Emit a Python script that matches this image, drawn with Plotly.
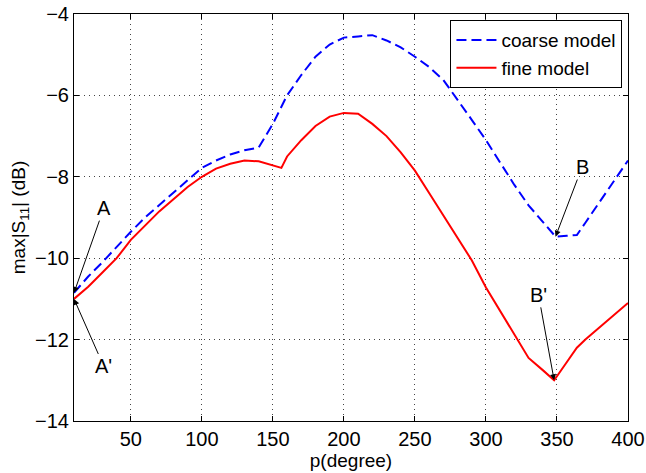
import plotly.graph_objects as go

p_coarse = [10, 20, 30, 40, 50, 60, 70, 80, 90, 100, 110, 120, 130, 140, 150, 160, 170, 180, 190, 200,
            210, 220, 230, 240, 250, 260, 270, 280, 290, 300, 310, 320, 330, 340, 349, 357, 364, 370, 380, 390, 400]
s11_coarse = [-10.85, -10.45, -10.1, -9.72, -9.35, -9.0, -8.7, -8.4, -8.1, -7.78, -7.6, -7.45, -7.35, -7.28, -6.7,
              -6.0, -5.5, -5.05, -4.75, -4.58, -4.55, -4.52, -4.65, -4.82, -5.05, -5.3, -5.62, -6.1, -6.6, -7.1,
              -7.65, -8.2, -8.7, -9.1, -9.47, -9.45, -9.43, -9.13, -8.63, -8.1, -7.6]

p_fine = [10, 20, 30, 40, 50, 60, 70, 80, 90, 100, 110, 120, 130, 140, 150, 156, 160, 170, 180, 190, 200,
          210, 220, 230, 240, 250, 260, 270, 280, 290, 300, 310, 320, 330, 340, 348, 356, 364, 370, 380, 390, 400]
s11_fine = [-11.0, -10.7, -10.35, -10.0, -9.55, -9.2, -8.85, -8.55, -8.25, -8.0, -7.8, -7.68, -7.6, -7.62, -7.72,
            -7.78, -7.5, -7.1, -6.75, -6.52, -6.43, -6.45, -6.7, -7.0, -7.4, -7.85, -8.4, -8.95, -9.5, -10.05,
            -10.72, -11.3, -11.88, -12.45, -12.75, -13.0, -12.6, -12.2, -12.0, -11.7, -11.4, -11.1]

x_ticks = [50, 100, 150, 200, 250, 300, 350, 400]
y_ticks = [-14, -12, -10, -8, -6, -4]

font = 'Arial, Liberation Sans, sans-serif'

fig = go.Figure()
fig.add_trace(go.Scatter(x=p_coarse, y=s11_coarse, mode='lines', name='coarse model',
                         line=dict(color='#0000FF', width=2, dash='10px,5px')))
fig.add_trace(go.Scatter(x=p_fine, y=s11_fine, mode='lines', name='fine model',
                         line=dict(color='#FF0000', width=2)))

# labelled points: (tip x, tip y, label, label x, label y)
marks = [
    (p_coarse[0], s11_coarse[0], 'A', 31, -8.77),
    (p_fine[0], s11_fine[0], "A'", 31, -12.66),
    (p_coarse[34], s11_coarse[34], 'B', 367.7, -7.76),
    (p_fine[35], s11_fine[35], "B'", 337, -10.9),
]
for tx, ty, label, lx, ly in marks:
    fig.add_annotation(x=tx, y=ty, ax=lx, ay=ly, axref='x', ayref='y', xref='x', yref='y',
                       text=label, showarrow=True, arrowhead=2, arrowsize=1.2, arrowwidth=1,
                       arrowcolor='black', font=dict(family=font, size=20, color='black'))

axis_common = dict(showline=True, linecolor='black', linewidth=1, mirror='ticks', ticks='inside',
                   ticklen=5, tickcolor='black', showgrid=True, gridcolor='#444444', griddash='1px,4px',
                   gridwidth=1, zeroline=False, automargin=False,
                   tickfont=dict(family=font, size=20, color='black'))

fig.update_xaxes(range=[10, 400], tickvals=x_ticks,
                 title=dict(text='p(degree)', font=dict(family=font, size=19, color='black'), standoff=0),
                 **axis_common)
fig.update_yaxes(range=[-14, -4], tickvals=y_ticks,
                 title=dict(text='max|S<sub>11</sub>| (dB)', font=dict(family=font, size=19, color='black'),
                            standoff=4),
                 **axis_common)

fig.update_layout(
    width=646, height=473,
    margin=dict(l=74, r=18, t=14, b=52),
    plot_bgcolor='white', paper_bgcolor='white',
    showlegend=True,
    legend=dict(x=0.99, y=0.985, xanchor='right', yanchor='top', bgcolor='white',
                bordercolor='black', borderwidth=1, font=dict(family=font, size=19, color='black'),
                tracegroupgap=0, itemwidth=40),
)

fig.write_html("out.html", config={'displayModeBar': False},
               post_script="document.body.style.margin='0';")
